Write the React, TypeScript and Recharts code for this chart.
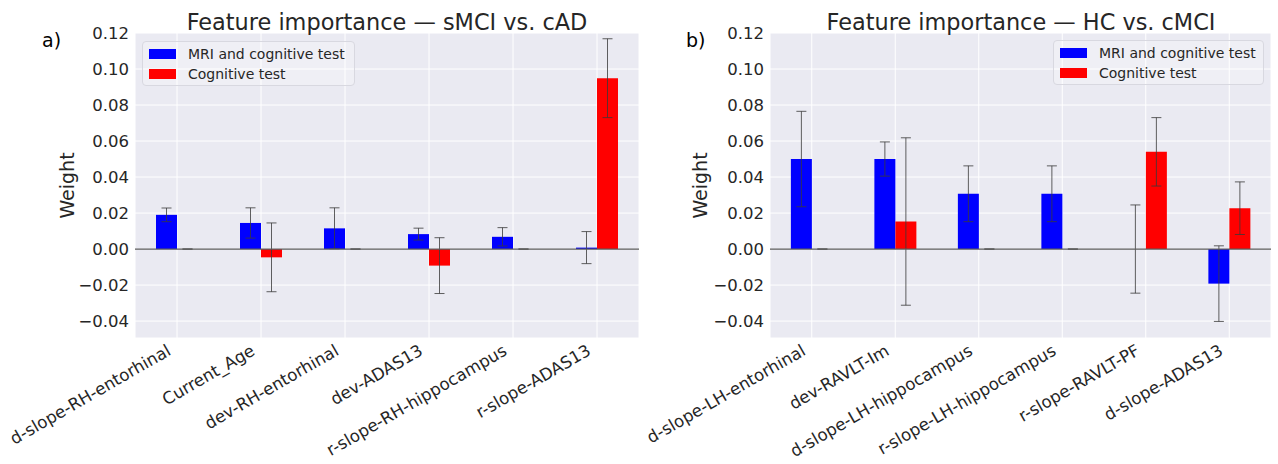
import React from 'react';
import {
  BarChart, Bar, XAxis, YAxis, CartesianGrid, ErrorBar, ReferenceLine, Legend,
} from 'recharts';

// ---- data ----
const categoriesA = ['d-slope-RH-entorhinal', 'Current_Age', 'dev-RH-entorhinal', 'dev-ADAS13', 'r-slope-RH-hippocampus', 'r-slope-ADAS13'];
const mriA = [0.019, 0.0145, 0.0115, 0.0083, 0.0068, 0.0008];
const mriErrA = [0.0038, 0.0084, 0.0114, 0.0033, 0.0051, 0.0089];
const cogA = [0, -0.0046, 0, -0.0092, 0, 0.0949];
const cogErrA = [0, 0.0191, 0, 0.0155, 0, 0.0219];

const categoriesB = ['d-slope-LH-entorhinal', 'dev-RAVLT-Im', 'd-slope-LH-hippocampus', 'r-slope-LH-hippocampus', 'r-slope-RAVLT-PF', 'd-slope-ADAS13'];
const mriB = [0.05, 0.05, 0.0307, 0.0307, 0, -0.0192];
const mriErrB = [0.0265, 0.0095, 0.0155, 0.0155, 0.0245, 0.021];
const cogB = [0, 0.0153, 0, 0, 0.054, 0.0227];
const cogErrB = [0, 0.0465, 0, 0, 0.019, 0.0146];

const yTicks = [-0.04, -0.02, 0, 0.02, 0.04, 0.06, 0.08, 0.1, 0.12];
const seriesNames = ['MRI and cognitive test', 'Cognitive test'];
const seriesColors = ['#0000FF', '#FF0000'];
const titles = ['Feature importance \u2014 sMCI vs. cAD', 'Feature importance \u2014 HC vs. cMCI'];
const panelLabels = ['a)', 'b)'];

const build = (cats: string[], m: number[], me: number[], c: number[], ce: number[]) =>
  cats.map((name, i) => ({ name, mri: m[i], mriErr: [me[i], me[i]], cog: c[i], cogErr: [ce[i], ce[i]] }));

const dataA = build(categoriesA, mriA, mriErrA, cogA, cogErrA);
const dataB = build(categoriesB, mriB, mriErrB, cogB, cogErrB);

const FONT = '"DejaVu Sans", sans-serif';
const TEXT = '#262626';

const fmt = (v: number) => {
  if (Math.abs(v) < 1e-9) return '0.00';
  return v < 0 ? '\u2212' + Math.abs(v).toFixed(2) : v.toFixed(2);
};

const XTick = (props: any) => {
  const { x, y, payload } = props;
  const tx = x - 5;
  const ty = y + 16;
  return (
    <text x={tx} y={ty} transform={`rotate(-30 ${tx} ${ty})`} textAnchor="end" fontSize={16.7} fill={TEXT} fontFamily={FONT}>
      {payload.value}
    </text>
  );
};

const makeLegend = (w: number, h: number) => () => (
  <div style={{
    width: w, height: h, boxSizing: 'border-box', border: '1px solid #d8d8e0', borderRadius: 4,
    background: 'rgba(255,255,255,0.25)', paddingTop: 2, paddingLeft: 6, fontFamily: FONT,
  }}>
    {seriesNames.map((name, i) => (
      <div key={i} style={{ display: 'flex', alignItems: 'center', height: 20 }}>
        <span style={{ display: 'inline-block', width: 27, height: 10, background: seriesColors[i], marginRight: 12 }} />
        <span style={{ fontSize: 14, color: TEXT, whiteSpace: 'nowrap' }}>{name}</span>
      </div>
    ))}
  </div>
);

const YLabel = (offsetX: number) => (props: any) => {
  const vb = props.viewBox || {};
  const cy = (vb.y || 0) + (vb.height || 0) / 2;
  return (
    <text x={offsetX} y={cy} transform={`rotate(-90 ${offsetX} ${cy})`} textAnchor="middle" fontSize={19} fill={TEXT} fontFamily={FONT}>
      Weight
    </text>
  );
};

const Panel = (p: { data: any[]; width: number; yAxisW: number; right: number; legendLeft: number; legendTop: number; legendW: number; yLabelX: number }) => (
  <BarChart
    width={p.width}
    height={464}
    data={p.data}
    margin={{ top: 33, right: p.right, bottom: 0, left: 0 }}
    barCategoryGap="25%"
    barGap={0}
  >
    <CartesianGrid fill="#EAEAF2" stroke="#ffffff" strokeWidth={1} />
    <XAxis dataKey="name" interval={0} height={126} axisLine={false} tickLine={false} tickSize={0} tickMargin={0} tick={<XTick />} />
    <YAxis
      width={p.yAxisW}
      domain={[-0.0494, 0.12]}
      ticks={yTicks}
      allowDataOverflow
      axisLine={false}
      tickLine={false}
      tickSize={4}
      tickMargin={2}
      tickFormatter={fmt}
      tick={{ fontSize: 16.5, fill: TEXT, fontFamily: FONT }}
      label={YLabel(p.yLabelX)}
    />
    <Bar dataKey="mri" name={seriesNames[0]} fill={seriesColors[0]} minPointSize={0.01} isAnimationActive={false} legendType="rect">
      <ErrorBar dataKey="mriErr" width={5} stroke="#3a3a3a" strokeWidth={1} strokeOpacity={0.8} direction="y" />
    </Bar>
    <Bar dataKey="cog" name={seriesNames[1]} fill={seriesColors[1]} minPointSize={0.01} isAnimationActive={false} legendType="rect">
      <ErrorBar dataKey="cogErr" width={5} stroke="#3a3a3a" strokeWidth={1} strokeOpacity={0.8} direction="y" />
    </Bar>
    <ReferenceLine y={0} stroke="#5a5a5a" strokeWidth={1.2} />
    <Legend
      layout="vertical"
      align="center"
      verticalAlign="middle"
      wrapperStyle={{ left: p.legendLeft, top: p.legendTop, width: p.legendW }}
      content={makeLegend(p.legendW, 45)}
    />
  </BarChart>
);

export default function App() {
  return (
    <div style={{ position: 'absolute', left: 0, top: 0, width: 1278, height: 464, background: '#fff', fontFamily: FONT }}>
      <div style={{ position: 'absolute', left: 0, top: 0 }}>
        <Panel data={dataA} width={640} yAxisW={135} right={1} legendLeft={142} legendTop={41} legendW={213} yLabelX={74} />
      </div>
      <div style={{ position: 'absolute', left: 640, top: 0 }}>
        <Panel data={dataB} width={638} yAxisW={130} right={7} legendLeft={413} legendTop={40} legendW={211} yLabelX={67} />
      </div>
      <svg width={1278} height={464} style={{ position: 'absolute', left: 0, top: 0, pointerEvents: 'none' }}>
        <text x={387} y={30} textAnchor="middle" fontSize={22.4} fill={TEXT} fontFamily={FONT}>{titles[0]}</text>
        <text x={1021} y={30} textAnchor="middle" fontSize={22.4} fill={TEXT} fontFamily={FONT}>{titles[1]}</text>
        <text x={42} y={47} fontSize={19} fill="#000" fontFamily={FONT}>{panelLabels[0]}</text>
        <text x={686} y={47} fontSize={19} fill="#000" fontFamily={FONT}>{panelLabels[1]}</text>
      </svg>
    </div>
  );
}
